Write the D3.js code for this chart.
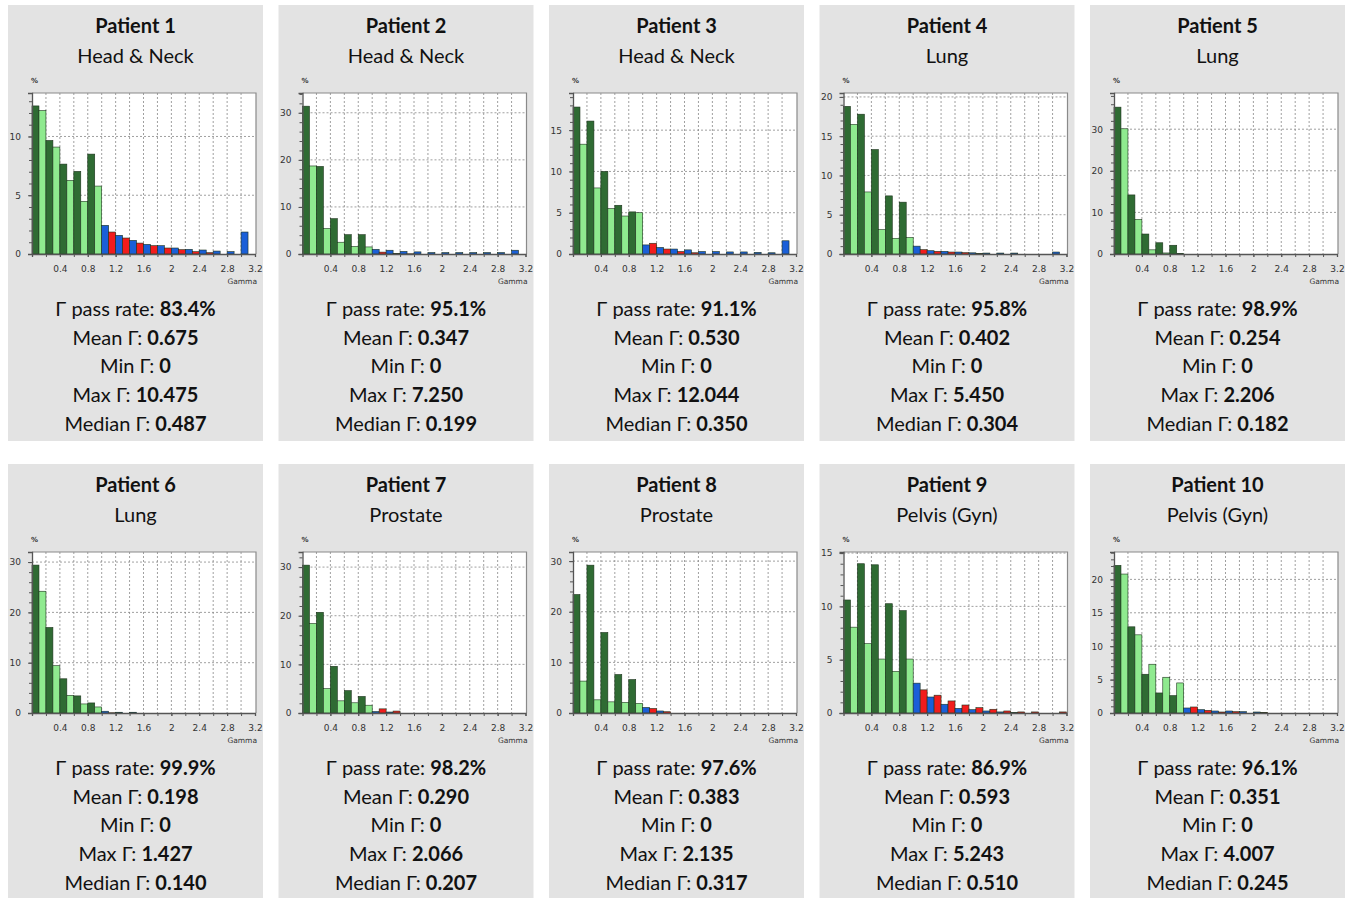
<!DOCTYPE html>
<html>
<head>
<meta charset="utf-8">
<script src="https://cdn.jsdelivr.net/npm/d3@7"></script>
<style>
  body { margin: 0; background: #fff; }
  svg { display: block; }
</style>
</head>
<body>
<div id="grafica"></div>
<script>
// Gamma histograms, 10 patients

const patients = ["Patient 1","Patient 2","Patient 3","Patient 4","Patient 5",
                  "Patient 6","Patient 7","Patient 8","Patient 9","Patient 10"]
const sites = ["Head & Neck","Head & Neck","Head & Neck","Lung","Lung",
               "Lung","Prostate","Prostate","Pelvis (Gyn)","Pelvis (Gyn)"]

const passRate = ["83.4%","95.1%","91.1%","95.8%","98.9%","99.9%","98.2%","97.6%","86.9%","96.1%"]
const meanGamma = ["0.675","0.347","0.530","0.402","0.254","0.198","0.290","0.383","0.593","0.351"]
const minGamma = ["0","0","0","0","0","0","0","0","0","0"]
const maxGamma = ["10.475","7.250","12.044","5.450","2.206","1.427","2.066","2.135","5.243","4.007"]
const medianGamma = ["0.487","0.199","0.350","0.304","0.182","0.140","0.207","0.317","0.510","0.245"]

// % of points per gamma bin (bins of 0.1 from 0 to 3.2)
const bins1 = [12.6,12.2,9.66,9.1,7.65,6.26,7.03,4.48,8.5,5.78, 2.44,1.87,1.59,1.36,1.16,0.93,0.82,0.71,0.71,0.51, 0.51,0.37,0.4,0.2,0.34,0.11,0.25,0,0.2,0, 1.87,0]
const bins2 = [31.4,18.7,18.6,5.4,7.5,2.5,4.1,1.6,4.1,1.5, 1.0,0.4,0.8,0.1,0.55,0.05,0.45,0,0.3,0, 0.3,0,0.3,0,0.3,0,0.3,0,0.3,0, 0.8,0]
const bins3 = [17.8,13.3,16.1,8.0,10.0,5.5,5.9,4.6,5.1,5.0, 1.1,1.3,0.8,0.6,0.6,0.3,0.5,0.15,0.3,0, 0.3,0,0.25,0,0.25,0,0.2,0,0.15,0, 1.6,0]
const bins4 = [18.8,16.5,17.8,7.9,13.3,3.1,7.4,2.0,6.6,2.1, 1.0,0.55,0.42,0.34,0.34,0.25,0.25,0.17,0.15,0.05, 0.12,0,0.12,0,0.12,0,0,0,0,0, 0.25,0]
const bins5 = [35.3,30.1,14.2,8.3,4.8,1.0,2.7,0.25,2.1,0.15, 0,0,0,0,0,0,0,0,0,0, 0,0,0,0,0,0,0,0,0,0, 0,0]
const bins6 = [29.4,24.2,17.0,9.4,6.8,3.5,3.4,1.8,2.0,1.2, 0.35,0.05,0.15,0,0.15,0,0,0,0,0, 0,0,0,0,0,0,0,0,0,0, 0,0]
const bins7 = [30.4,18.4,20.7,5.0,9.6,2.5,4.6,2.1,3.4,1.6, 0.3,0.85,0.2,0.4,0,0,0,0,0,0, 0,0,0,0,0,0,0,0,0,0, 0,0]
const bins8 = [23.4,6.3,29.2,2.6,15.9,2.2,7.6,2.1,6.6,1.9, 1.1,0.9,0.4,0.25,0,0,0,0,0,0, 0,0,0,0,0,0,0,0,0,0, 0,0]
const bins9 = [10.6,8.05,14.0,6.5,13.9,5.06,10.25,3.9,9.6,5.06, 2.8,2.17,1.5,1.67,0.82,1.13,0.44,0.75,0.31,0.5, 0.19,0.35,0.1,0.19,0.03,0.1,0,0.1,0,0, 0,0.1]
const bins10 = [22.1,20.8,12.9,11.7,5.8,7.3,3.0,5.35,2.6,4.5, 0.75,0.9,0.5,0.4,0.3,0.15,0.3,0.2,0.2,0, 0.15,0.1,0,0,0,0,0,0,0,0, 0,0]
const allBins = [bins1,bins2,bins3,bins4,bins5,bins6,bins7,bins8,bins9,bins10]

// y axis top value and major tick step of each histogram
const yTop = [13.7,34.2,19.5,20.5,38.7,32,33.1,31.8,15.1,24.1]
const yStep = [5,10,5,5,10,10,10,10,5,5]

const xTickLabels = [0.4,0.8,1.2,1.6,2,2.4,2.8,3.2]
const binWidth = 0.1

const colDark = "#2f6b33", colLight = "#8fea8f", colBlue = "#1a5fd8", colRed = "#f21c1c"

const boxX = [8, 278.5, 549, 819.5, 1090]
const rowY = [5, 464]
const boxW = 255
const plotL = 24, plotR = 248, plotT = 88, plotB = 249

const svg = d3.select('#grafica')
  .append("svg")
  .attr("width", 1349)
  .attr("height", 898)

for (let p = 0; p < 10; p++) {
  drawPanel(p)
}

function drawPanel(p) {
  let row = p < 5 ? 0 : 1
  let col = p % 5
  let boxH = row == 0 ? 436 : 434

  const g = svg.append("g")
    .attr("transform", "translate(" + boxX[col] + "," + rowY[row] + ")")

  g.append("rect")
    .attr("width", boxW)
    .attr("height", boxH)
    .attr("fill", "#e3e3e3")

  // titles
  g.append("text")
    .attr("x", boxW / 2).attr("y", 28)
    .attr("text-anchor", "middle")
    .attr("font-family", "Lato")
    .attr("font-weight", "bold")
    .attr("font-size", 20)
    .attr("fill", "#111")
    .text(patients[p])

  g.append("text")
    .attr("x", boxW / 2).attr("y", 58)
    .attr("text-anchor", "middle")
    .attr("font-family", "Lato")
    .attr("font-size", 20)
    .attr("fill", "#111")
    .text(sites[p])

  // scales
  const xScale = d3.scaleLinear()
    .domain([0, 3.2])
    .range([plotL, plotR - 1])

  const yScale = d3.scaleLinear()
    .domain([0, yTop[p]])
    .range([plotB, plotT])

  g.append("rect")
    .attr("x", plotL).attr("y", plotT)
    .attr("width", plotR - plotL).attr("height", plotB - plotT)
    .attr("fill", "#fff")

  // dashed grid
  let vGrid = d3.range(1, 16).map(d => d * 0.2)
  g.selectAll(".vgrid")
    .data(vGrid)
    .enter()
    .append("line")
    .attr("x1", d => xScale(d)).attr("x2", d => xScale(d))
    .attr("y1", plotT).attr("y2", plotB)
    .attr("stroke", "#888")
    .attr("stroke-width", 0.8)
    .attr("stroke-dasharray", "2,2")

  let yMajor = d3.range(0, yTop[p], yStep[p])
  g.selectAll(".hgrid")
    .data(yMajor.filter(d => d > 0))
    .enter()
    .append("line")
    .attr("x1", plotL).attr("x2", plotR)
    .attr("y1", d => yScale(d)).attr("y2", d => yScale(d))
    .attr("stroke", "#888")
    .attr("stroke-width", 0.8)
    .attr("stroke-dasharray", "2,2")

  // bars
  g.selectAll(".bar")
    .data(allBins[p])
    .enter()
    .append("rect")
    .attr("x", (d, i) => xScale(i * binWidth))
    .attr("y", d => yScale(d))
    .attr("width", xScale(binWidth) - xScale(0))
    .attr("height", d => plotB - yScale(d))
    .attr("fill", (d, i) => i < 10 ? (i % 2 == 0 ? colDark : colLight) : (i % 2 == 0 ? colBlue : colRed))
    .attr("stroke", (d, i) => d > 0 ? "#1d331d" : "none")
    .attr("stroke-width", 0.6)

  // frame
  g.append("path")
    .attr("d", "M" + plotL + "," + plotT + "H" + plotR + "V" + plotB)
    .attr("fill", "none")
    .attr("stroke", "#8a8a8a")
    .attr("stroke-width", 1.2)

  // axes
  const xAxis = d3.axisBottom(xScale)
    .tickValues(xTickLabels)
    .tickSize(3)
    .tickPadding(9)
    .tickFormat(d => String(d))

  const xMinor = d3.axisBottom(xScale)
    .tickValues(vGrid)
    .tickSize(3)
    .tickFormat("")

  const yAxis = d3.axisLeft(yScale)
    .tickValues(yMajor)
    .tickSize(4)
    .tickPadding(7)

  const yMinor = d3.axisLeft(yScale)
    .tickValues(d3.range(0, yTop[p], yStep[p] / 5))
    .tickSize(3)
    .tickFormat("")

  let ax = g.append("g")
    .attr("transform", "translate(0," + plotB + ")")
    .call(xMinor)
  ax.select(".domain").remove()

  g.append("g")
    .attr("transform", "translate(0," + plotB + ")")
    .call(xAxis)

  let ay = g.append("g")
    .attr("transform", "translate(" + plotL + ",0)")
    .call(yMinor)
  ay.select(".domain").remove()

  g.append("g")
    .attr("transform", "translate(" + plotL + ",0)")
    .call(yAxis)

  g.selectAll(".tick line").attr("stroke", "#555")
  g.selectAll(".domain").attr("stroke", "#555").attr("stroke-width", 1.3)
  g.selectAll(".tick text")
    .attr("font-family", "DejaVu Sans")
    .attr("font-size", 9)
    .attr("fill", "#333")

  g.append("text")
    .attr("x", plotL - 1).attr("y", 78)
    .attr("font-family", "DejaVu Sans")
    .attr("font-size", 7)
    .attr("font-weight", "bold")
    .attr("fill", "#333")
    .text("%")

  g.append("text")
    .attr("x", plotR + 1).attr("y", 279)
    .attr("text-anchor", "end")
    .attr("font-family", "DejaVu Sans")
    .attr("font-size", 7.5)
    .attr("fill", "#333")
    .text("Gamma")

  // statistics
  let labels = ["Γ pass rate: ", "Mean Γ: ", "Min Γ: ", "Max Γ: ", "Median Γ: "]
  let values = [passRate[p], meanGamma[p], minGamma[p], maxGamma[p], medianGamma[p]]
  let lineY = [311, 340, 368, 397, 426]

  for (let k = 0; k < 5; k++) {
    let t = g.append("text")
      .attr("x", boxW / 2).attr("y", lineY[k])
      .attr("text-anchor", "middle")
      .attr("font-family", "Lato")
      .attr("font-size", 20)
      .attr("fill", "#111")
    t.append("tspan").text(labels[k])
    t.append("tspan").attr("font-weight", "bold").text(values[k])
  }
}
</script>
</body>
</html>
